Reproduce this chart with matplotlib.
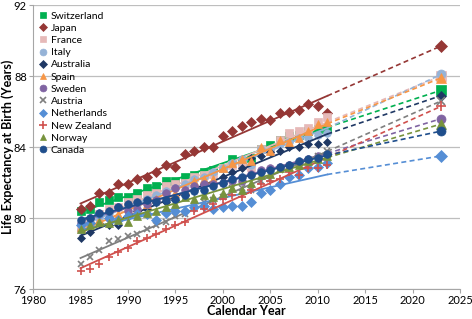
import numpy as np
import matplotlib
matplotlib.use("Agg")
import matplotlib.pyplot as plt

plt.rcParams["font.family"] = ["Lato", "DejaVu Sans"]

years = list(range(1985, 2012))
proj_year = 2023

countries = ["Switzerland", "Japan", "France", "Italy", "Australia", "Spain",
             "Sweden", "Austria", "Netherlands", "New Zealand", "Norway", "Canada"]

switzerland = [80.4, 80.5, 80.9, 81.0, 81.2, 81.2, 81.4, 81.7, 81.8, 82.1, 82.1, 82.3, 82.4, 82.6,
               82.7, 82.8, 83.3, 83.2, 83.4, 83.9, 84.1, 84.4, 84.6, 84.7, 84.9, 85.0, 85.0]
japan = [80.5, 80.7, 81.4, 81.4, 81.9, 81.9, 82.2, 82.3, 82.6, 83.0, 82.9, 83.6, 83.8, 84.0,
         84.0, 84.6, 84.9, 85.2, 85.4, 85.6, 85.5, 85.9, 86.0, 86.1, 86.4, 86.3, 85.9]
france = [79.4, 79.8, 80.2, 80.5, 80.6, 80.9, 81.1, 81.3, 81.4, 81.8, 81.9, 82.0, 82.3, 82.4,
          82.5, 82.8, 83.0, 83.0, 82.9, 83.9, 83.8, 84.4, 84.8, 84.9, 85.1, 85.4, 85.7]
italy = [79.3, 79.6, 80.0, 80.3, 80.6, 80.6, 80.8, 81.1, 81.3, 81.5, 81.7, 81.9, 82.2, 82.3,
         82.6, 82.8, 83.1, 83.3, 83.0, 83.9, 83.8, 84.2, 84.3, 84.5, 84.5, 84.7, 84.8]
australia = [78.9, 79.2, 79.7, 79.6, 79.6, 80.1, 80.4, 80.5, 80.9, 80.9, 81.0, 81.3, 81.6, 81.9,
             82.0, 82.3, 82.6, 82.8, 83.4, 83.5, 83.7, 83.8, 84.0, 84.0, 84.2, 84.2, 84.3]
spain = [79.5, 79.8, 79.9, 80.1, 80.2, 80.3, 80.5, 80.8, 81.1, 81.3, 81.4, 81.6, 82.1, 82.2,
         82.2, 82.8, 83.1, 83.3, 83.2, 84.0, 83.8, 84.4, 84.3, 84.5, 84.9, 85.3, 85.4]
sweden = [79.7, 80.0, 80.2, 80.0, 80.6, 80.4, 80.5, 80.8, 81.0, 81.4, 81.7, 81.6, 81.8, 81.9,
          81.9, 82.0, 82.1, 82.1, 82.5, 82.7, 82.8, 82.9, 83.0, 83.1, 83.3, 83.5, 83.6]
austria = [77.4, 77.8, 78.2, 78.7, 78.8, 79.0, 79.1, 79.4, 79.6, 79.8, 80.1, 80.2, 80.7, 80.9,
           81.0, 81.2, 81.7, 81.7, 81.6, 82.1, 82.2, 82.7, 82.9, 83.0, 83.2, 83.5, 83.8]
netherlands = [79.6, 79.7, 80.2, 80.0, 79.9, 80.1, 80.2, 80.2, 79.9, 80.3, 80.4, 80.4, 80.6, 80.7,
               80.5, 80.6, 80.7, 80.7, 80.9, 81.4, 81.6, 81.9, 82.3, 82.4, 82.8, 82.9, 83.1]
new_zealand = [77.0, 77.1, 77.4, 77.8, 78.1, 78.3, 78.7, 78.9, 79.1, 79.4, 79.6, 79.8, 80.4, 80.5,
               80.8, 81.1, 81.3, 81.2, 81.6, 81.9, 82.1, 82.2, 82.6, 82.4, 82.8, 82.8, 83.0]
norway = [79.4, 79.6, 79.8, 79.7, 79.9, 79.8, 80.1, 80.3, 80.4, 80.6, 80.8, 81.2, 81.1, 81.3,
          81.2, 81.4, 81.7, 81.6, 82.0, 82.4, 82.5, 82.8, 82.9, 83.0, 83.2, 83.3, 83.5]
canada = [79.9, 80.0, 80.3, 80.4, 80.6, 80.8, 80.9, 81.0, 80.9, 81.0, 81.1, 81.3, 81.5, 81.6,
          81.8, 82.0, 82.2, 82.3, 82.4, 82.6, 82.7, 82.9, 83.0, 83.2, 83.3, 83.4, 83.6]

projections = [87.2, 89.7, 88.0, 88.1, 86.9, 87.9, 85.6, 86.6, 83.5, 86.3, 85.3, 84.9]

series = [switzerland, japan, france, italy, australia, spain,
          sweden, austria, netherlands, new_zealand, norway, canada]

colors = ["#00B050", "#953735", "#E6B9B8", "#95B3D7", "#1F3864", "#F79646",
          "#8064A2", "#7F7F7F", "#558ED5", "#D0504D", "#77933C", "#1F4E8C"]
markers = ["s", "D", "s", "o", "D", "^", "o", "x", "D", "+", "^", "o"]
msizes = [5.5, 5, 5.5, 5.5, 4, 5.5, 5.5, 5, 5, 6, 5.5, 5.5]

fig, ax = plt.subplots(figsize=(4.72, 3.19), dpi=100)
fig.subplots_adjust(left=0.07, right=0.975, top=0.984, bottom=0.094)

x = np.array(years)
for name, vals, c, m, ms, p in zip(countries, series, colors, markers, msizes, projections):
    y = np.array(vals)
    ax.plot(x, y, linestyle="none", marker=m, color=c, markersize=ms,
            markeredgewidth=1.2 if m in ("x", "+") else 0.5, label=name)
    coef = np.polyfit(x, y, 1)
    fit = np.polyval(coef, x)
    ax.plot(x, fit, color=c, linewidth=1.3)
    ax.plot([x[-1], proj_year], [fit[-1], p], color=c, linewidth=1.2, linestyle=(0, (3, 2)))
    ax.plot([proj_year], [p], linestyle="none", marker=m, color=c, markersize=ms + 1,
            markeredgewidth=1.2 if m in ("x", "+") else 0.5)

ax.set_xlim(1980, 2025)
ax.set_ylim(76, 92)
ax.set_xticks(range(1980, 2026, 5))
ax.set_yticks([76, 80, 84, 88, 92])
ax.grid(axis="y", color="#BEBEBE", linewidth=0.9)
ax.set_axisbelow(True)
for s in ["top", "right"]:
    ax.spines[s].set_visible(False)
for s in ["left", "bottom"]:
    ax.spines[s].set_color("#A6A6A6")
ax.tick_params(colors="#A6A6A6", labelcolor="black", labelsize=8, length=3, pad=1.5)

ax.set_xlabel("Calendar Year", fontsize=9, fontweight="bold", labelpad=-1)
ax.set_ylabel("Life Expectancy at Birth (Years)", fontsize=9, fontweight="bold", labelpad=0)

ax.legend(loc="upper left", bbox_to_anchor=(0.0, 1.0), frameon=False, fontsize=7.5,
          handlelength=0.8, handletextpad=0.3, labelspacing=0.28, borderaxespad=0.2,
          markerscale=0.9)

plt.savefig("out.png", dpi=100)
